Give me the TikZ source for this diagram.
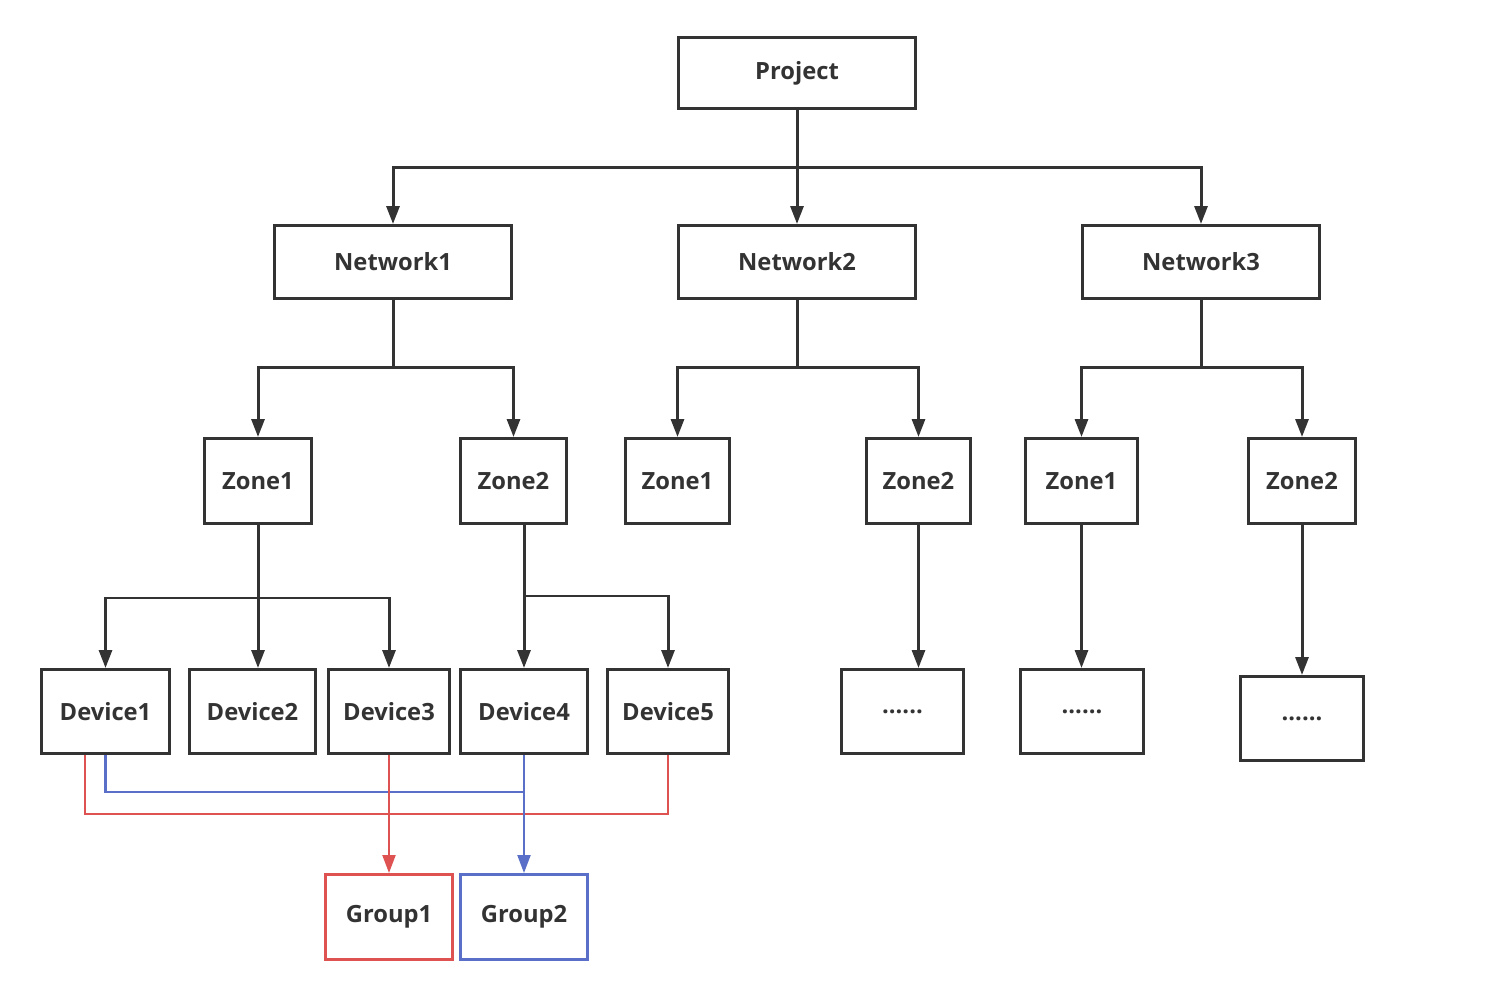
\documentclass[tikz,border=0pt]{standalone}
\usepackage{fontspec}
\setmainfont{Open Sans}
\usetikzlibrary{arrows.meta}

\definecolor{linegray}{RGB}{51,51,51}
\definecolor{groupred}{RGB}{222,82,82}
\definecolor{groupblue}{RGB}{90,112,200}

\begin{document}
\begin{tikzpicture}[x=0.02cm, y=-0.02cm,
	box/.style={draw=linegray, line width=0.06cm, fill=white, text=linegray,
		font=\bfseries\fontsize{13.5}{16}\selectfont, inner sep=0pt},
	arr/.style={draw=linegray, line width=0.06cm, -{Triangle[length=0.36cm,width=0.26cm]}},
	link/.style={draw=linegray, line width=0.06cm},
	redlink/.style={draw=groupred, line width=0.045cm},
	bluelink/.style={draw=groupblue, line width=0.045cm},
	redarr/.style={redlink, -{Triangle[length=0.36cm,width=0.26cm]}},
	bluearr/.style={bluelink, -{Triangle[length=0.36cm,width=0.26cm]}}]

	\useasboundingbox (0,0) rectangle (1491,1006);

	% top
	\node[box, minimum width=4.74cm, minimum height=1.42cm] (proj) at (797,73) {Project};

	\node[box, minimum width=4.74cm, minimum height=1.46cm] (net1) at (393,262) {Network1};
	\node[box, minimum width=4.74cm, minimum height=1.46cm] (net2) at (797,262) {Network2};
	\node[box, minimum width=4.74cm, minimum height=1.46cm] (net3) at (1201,262) {Network3};

	\coordinate (pbus) at (797,168);
	\draw[link] (proj.south) -- (pbus);
	\draw[arr] (pbus) -| (net1.north);
	\draw[arr] (pbus) -- (net2.north);
	\draw[arr] (pbus) -| (net3.north);

	% zones
	\node[box, minimum width=2.14cm, minimum height=1.7cm] (z11) at (258,481) {Zone1};
	\node[box, minimum width=2.12cm, minimum height=1.7cm] (z12) at (513.5,481) {Zone2};
	\node[box, minimum width=2.08cm, minimum height=1.7cm] (z21) at (677.5,481) {Zone1};
	\node[box, minimum width=2.08cm, minimum height=1.7cm] (z22) at (918.5,481) {Zone2};
	\node[box, minimum width=2.24cm, minimum height=1.7cm] (z31) at (1081.5,481) {Zone1};
	\node[box, minimum width=2.14cm, minimum height=1.7cm] (z32) at (1302,481) {Zone2};

	\coordinate (n1bus) at (393,368);
	\coordinate (n2bus) at (797,368);
	\coordinate (n3bus) at (1201,368);
	\draw[link] (net1.south) -- (n1bus);
	\draw[arr] (n1bus) -| (z11.north);
	\draw[arr] (n1bus) -| (z12.north);
	\draw[link] (net2.south) -- (n2bus);
	\draw[arr] (n2bus) -| (z21.north);
	\draw[arr] (n2bus) -| (z22.north);
	\draw[link] (net3.south) -- (n3bus);
	\draw[arr] (n3bus) -| (z31.north);
	\draw[arr] (n3bus) -| (z32.north);

	% devices
	\node[box, minimum width=2.56cm, minimum height=1.68cm] (dev1) at (105.5,711.5) {Device1};
	\node[box, minimum width=2.52cm, minimum height=1.68cm] (dev2) at (252.5,711.5) {Device2};
	\node[box, minimum width=2.42cm, minimum height=1.68cm] (dev3) at (389,711.5) {Device3};
	\node[box, minimum width=2.54cm, minimum height=1.68cm] (dev4) at (524,711.5) {Device4};
	\node[box, minimum width=2.42cm, minimum height=1.68cm] (dev5) at (668,711.5) {Device5};

	\node[box, minimum width=2.44cm, minimum height=1.68cm] (d22) at (902.5,711.5) {......};
	\node[box, minimum width=2.46cm, minimum height=1.68cm] (d31) at (1082,711.5) {......};
	\node[box, minimum width=2.46cm, minimum height=1.68cm] (d32) at (1302,718.5) {......};

	\coordinate (z11bus) at (258,598);
	\coordinate (z12bus) at (524,596);
	\draw[arr] (z11.south) -- (dev2.north -| z11.south);
	\draw[arr] (z11bus) -| (dev1.north);
	\draw[arr] (z11bus) -| (dev3.north);
	\draw[arr] (z12.south -| dev4.north) -- (dev4.north);
	\draw[arr] (z12bus) -| (dev5.north);

	\draw[arr] (z22.south) -- (d22.north -| z22.south);
	\draw[arr] (z31.south) -- (d31.north -| z31.south);
	\draw[arr] (z32.south) -- (d32.north);

	% groups
	\node[box, draw=groupred, minimum width=2.54cm, minimum height=1.7cm] (grp1) at (389,917) {Group1};
	\node[box, draw=groupblue, minimum width=2.54cm, minimum height=1.7cm] (grp2) at (524,917) {Group2};

	\draw[redlink] ([xshift=-0.41cm]dev1.south) -- ++(0,59) -| (dev5.south);
	\draw[bluelink] (dev1.south) -- ++(0,37) -| (dev4.south);
	\draw[redarr] (dev3.south) -- (grp1.north);
	\draw[bluearr] (dev4.south) -- (grp2.north);

\end{tikzpicture}
\end{document}
